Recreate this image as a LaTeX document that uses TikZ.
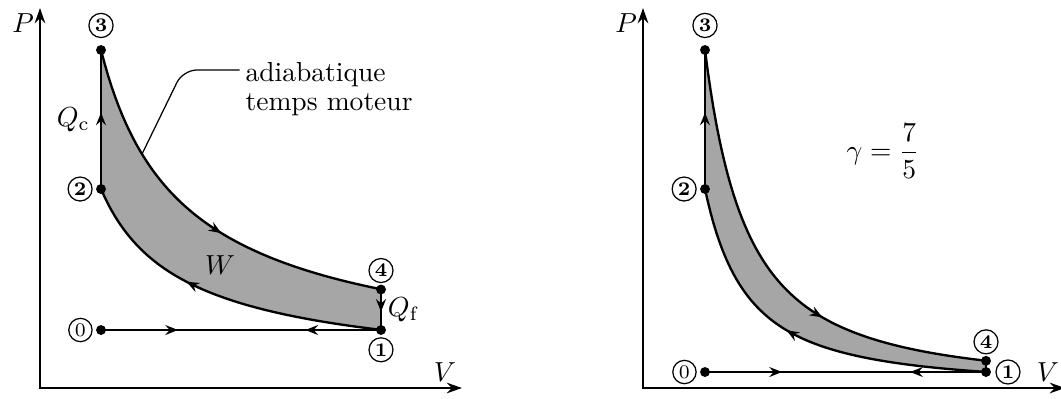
\documentclass[tikz,border=0pt]{standalone}
\usepackage{amsmath}
\usetikzlibrary{arrows.meta, positioning, calc, decorations.markings}

\begin{document}
\begin{tikzpicture}[
  x=0.363pt, y=0.363pt,
  >={Stealth[length=4.6pt, width=3.6pt, inset=1.6pt]},
  axis/.style      = {line width=0.9pt,
                      {Stealth[length=5.5pt, width=3.8pt, inset=1.8pt]}-{Stealth[length=5.5pt, width=3.8pt, inset=1.8pt]}},
  cycleline/.style = {line width=0.85pt},
  workarea/.style  = {fill=black!35},
  leader/.style    = {line width=0.45pt, rounded corners=5pt},
  cnum/.style      = {circle, draw, line width=0.45pt, inner sep=0.8pt,
                      font=\scriptsize\bfseries},
  midarrow/.style  = {postaction={decorate, decoration={markings,
                        mark=at position #1 with {\arrow{>}}}}},
  backarrow/.style = {postaction={decorate, decoration={markings,
                        mark=at position #1 with {\arrowreversed{>}}}}},
]
\useasboundingbox (0,0) rectangle (1061,398);

%% ── Left: schematic cycle ───────────────────────────────────────────────────
\begin{scope}[shift={(40,10)}]
  \coordinate (O)  at (0,0);
  \coordinate (pA) at (0,380);
  \coordinate (vA) at (422,0);
  \coordinate (p0) at (61,58);
  \coordinate (p1) at (341,58);
  \coordinate (p2) at (61,199);
  \coordinate (p3) at (61,338);
  \coordinate (p4) at (341,98.5);

  \fill[workarea] (p2) -- (p3)
    -- plot[domain=61:341, samples=80] (\x, {338*(61/\x)^0.7163})
    -- (p1)
    -- plot[domain=341:61, samples=80] (\x, {199*(61/\x)^0.7163}) -- cycle;

  \draw[cycleline, midarrow=0.57]
    plot[domain=61:341, samples=80] (\x, {338*(61/\x)^0.7163});
  \draw[cycleline, midarrow=0.61]
    plot[domain=341:61, samples=80] (\x, {199*(61/\x)^0.7163});
  \draw[cycleline, midarrow=0.55] (p2) -- (p3);
  \draw[cycleline, midarrow=0.55] (p4) -- (p1);
  \draw[cycleline, midarrow=0.275, backarrow=0.73] (p0) -- (p1);

  \draw[axis] (pA) -- (O) -- (vA);
  \node[anchor=north east, inner sep=2pt] (Pl) at (pA) {$P$};
  \node[anchor=south east, inner sep=2pt] (Vl) at (vA) {$V$};

  \foreach \p in {p0,p1,p2,p3,p4} \fill (\p) circle (1.8pt);

  \node[cnum, font=\scriptsize, left=3pt of p0] (n0) {0};
  \node[cnum, below=2.6pt of p1] (n1) {1};
  \node[cnum, left=3pt of p2]    (n2) {2};
  \node[cnum, above=4.3pt of p3] (n3) {3};
  \node[cnum, above=2.3pt of p4] (n4) {4};

  \node[left=0.5pt]  (Qc) at ($(p2)!0.5!(p3)$) {$Q_{\mathrm{c}}$};
  \node[right=-1pt]  (Qf) at ($(p4)!0.5!(p1)$) {$Q_{\mathrm{f}}$};
  \node (Wl) at (180,123) {$W$};

  %% leader to the expansion curve
  \coordinate (lead) at (102,233.9);
  \coordinate (bend) at (143,318);
  \node[anchor=north west, inner sep=2pt, align=left] (adia) at (199.5,331.5)
    {adiabatique\\[-1.7pt]temps moteur};
  \draw[leader] (lead) -- (bend) -- (bend -| adia.west);
\end{scope}

%% ── Right: gamma = 7/5 ──────────────────────────────────────────────────────
\begin{scope}[shift={(643,10)}]
  \coordinate (O)  at (0,0);
  \coordinate (pA) at (0,380);
  \coordinate (vA) at (422,0);
  \coordinate (p0) at (62,16);
  \coordinate (p1) at (343,16);
  \coordinate (p2) at (62,199);
  \coordinate (p3) at (62,338);
  \coordinate (p4) at (343,27.2);

  \fill[workarea] (p2) -- (p3)
    -- plot[domain=62:343, samples=100] (\x, {338*(62/\x)^1.4736})
    -- (p1)
    -- plot[domain=343:62, samples=100] (\x, {199*(62/\x)^1.4736}) -- cycle;

  \draw[cycleline, midarrow=0.64]
    plot[domain=62:343, samples=100] (\x, {338*(62/\x)^1.4736});
  \draw[cycleline, midarrow=0.55]
    plot[domain=343:62, samples=100] (\x, {199*(62/\x)^1.4736});
  \draw[cycleline, midarrow=0.55] (p2) -- (p3);
  \draw[cycleline] (p4) -- (p1);
  \draw[cycleline, midarrow=0.274, backarrow=0.73] (p0) -- (p1);

  \draw[axis] (pA) -- (O) -- (vA);
  \node[anchor=north east, inner sep=2pt] (Pl) at (pA) {$P$};
  \node[anchor=south east, inner sep=2pt] (Vl) at (vA) {$V$};

  \foreach \p in {p0,p1,p2,p3,p4} \fill (\p) circle (1.8pt);

  \node[cnum, font=\scriptsize, left=3pt of p0] (n0) {0};
  \node[cnum, right=3.4pt of p1]  (n1) {1};
  \node[cnum, left=3pt of p2]     (n2) {2};
  \node[cnum, above=4.3pt of p3]  (n3) {3};
  \node[cnum, above=2.3pt of p4]  (n4) {4};

  \node (gam) at (240,237) {$\gamma=\dfrac{7}{5}$};
\end{scope}

\end{tikzpicture}
\end{document}
